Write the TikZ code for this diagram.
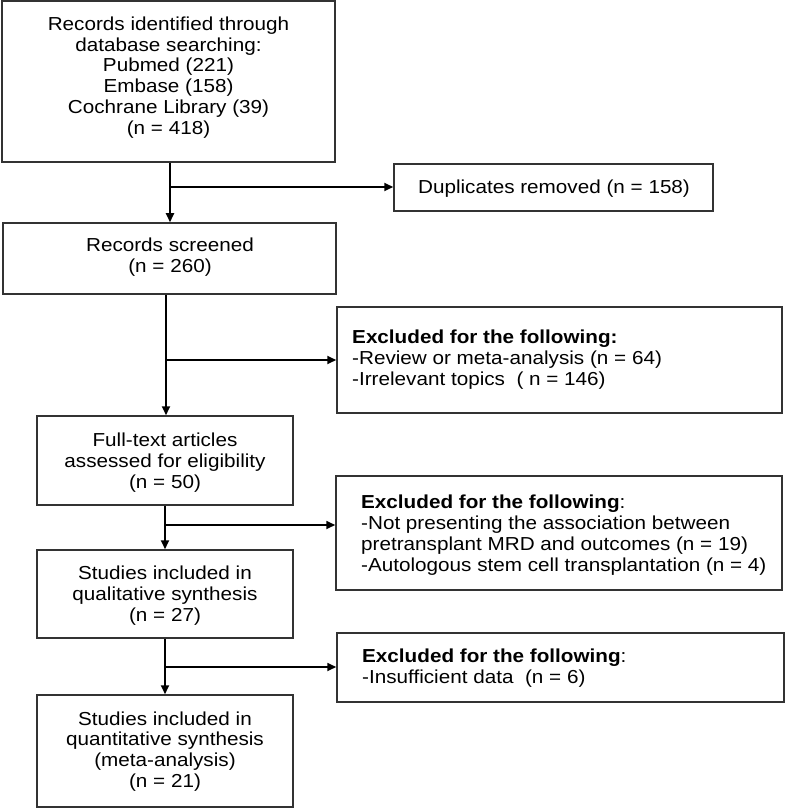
\documentclass[tikz,border=0pt]{standalone}
\usepackage{fontspec}
\setmainfont{Liberation Sans}[FakeStretch=1.1]
\usetikzlibrary{arrows.meta}
\begin{document}
\begin{tikzpicture}[x=1pt,y=-1pt,
  box/.style={draw=black!80,line width=1.5pt,rectangle,inner sep=0pt},
  txt/.style={inner sep=0pt,font=\fontsize{18.8}{20.8}\selectfont,yshift=-1.5pt},
  ctxt/.style={txt,align=center},
  ltxt/.style={txt,align=left,anchor=west},
  arr/.style={line width=1.7pt,-{Triangle[length=9pt,width=8pt]}}]
\useasboundingbox (0,0) rectangle (787,810);
% main column boxes
\node[box,minimum width=333pt,minimum height=161pt] (b1) at (168.5,81.5) {};
\node[ctxt] (b1t) at (168.5,76) {Records identified through\\database searching:\\Pubmed (221)\\Embase (158)\\Cochrane Library (39)\\(n = 418)};
\node[box,minimum width=319pt,minimum height=47pt] (dup) at (553.5,187.5) {};
\node[ctxt] (dupt) at (554,187) {Duplicates removed (n = 158)};
\node[box,minimum width=333pt,minimum height=71pt] (b2) at (169.5,258.5) {};
\node[ctxt] (b2t) at (170,256) {Records screened\\(n = 260)};
\node[box,minimum width=445pt,minimum height=106pt] (ex1) at (559.5,360) {};
\node[ltxt] (ex1t) at (352,358) {\textbf{Excluded for the following:}\\-Review or meta-analysis (n = 64)\\-Irrelevant topics~ ( n = 146)};
\node[box,minimum width=256pt,minimum height=89pt] (b3) at (165,460.5) {};
\node[ctxt] (b3t) at (165,461) {Full-text articles\\assessed for eligibility\\(n = 50)};
\node[box,minimum width=446pt,minimum height=114pt] (ex2) at (559,533) {};
\node[ltxt] (ex2t) at (361,533.5) {\textbf{Excluded for the following}:\\-Not presenting the association between\\pretransplant MRD and outcomes (n = 19)\\-Autologous stem cell transplantation (n = 4)};
\node[box,minimum width=256pt,minimum height=88pt] (b4) at (165,594) {};
\node[ctxt] (b4t) at (165,594) {Studies included in\\qualitative synthesis\\(n = 27)};
\node[box,minimum width=447pt,minimum height=69pt] (ex3) at (560.5,667.5) {};
\node[ltxt] (ex3t) at (362,666.5) {\textbf{Excluded for the following}:\\-Insufficient data~ (n = 6)};
\node[box,minimum width=256pt,minimum height=112pt] (b5) at (165,751) {};
\node[ctxt] (b5t) at (165,750) {Studies included in\\quantitative synthesis\\(meta-analysis)\\(n = 21)};
% connectors
\coordinate (j1) at (170,187);
\coordinate (j2) at (166,360);
\coordinate (j3) at (165,525);
\coordinate (j4) at (165,667);
\draw[arr] (j1 |- b1.south) -- (j1 |- b2.north);
\draw[arr] (j1) -- (j1 -| dup.west);
\draw[arr] (j2 |- b2.south) -- (j2 |- b3.north);
\draw[arr] (j2) -- (j2 -| ex1.west);
\draw[arr] (b3.south) -- (b4.north);
\draw[arr] (j3) -- (j3 -| ex2.west);
\draw[arr] (b4.south) -- (b5.north);
\draw[arr] (j4) -- (j4 -| ex3.west);
\end{tikzpicture}
\end{document}
